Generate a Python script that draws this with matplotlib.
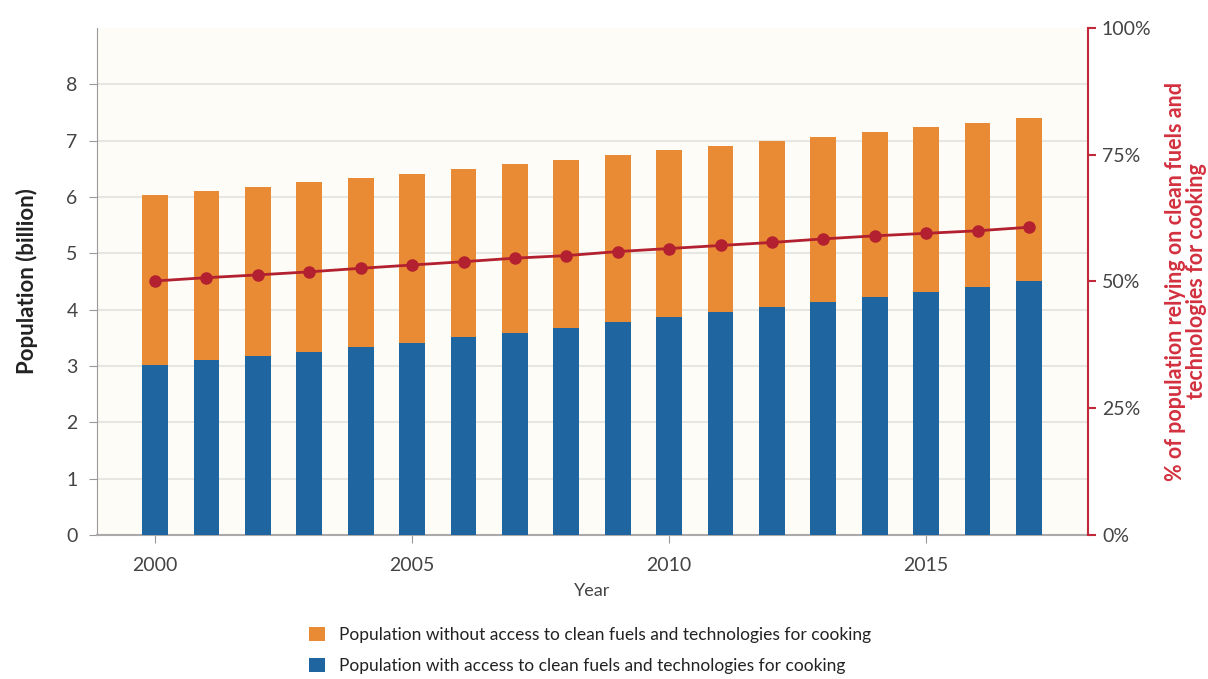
import matplotlib
matplotlib.use("Agg")
import matplotlib.pyplot as plt
from matplotlib.patches import Patch
from matplotlib.ticker import FuncFormatter

years = list(range(2000, 2018))
with_access = [3.02, 3.10, 3.17, 3.25, 3.33, 3.41, 3.51, 3.59, 3.68, 3.78,
               3.87, 3.95, 4.05, 4.14, 4.23, 4.32, 4.41, 4.51]
without_access = [3.01, 3.00, 3.01, 3.01, 3.01, 3.00, 2.99, 2.99, 2.98, 2.96,
                  2.96, 2.96, 2.95, 2.93, 2.93, 2.92, 2.91, 2.89]
pct_clean = [50.1, 50.75, 51.3, 51.9, 52.6, 53.25, 53.9, 54.6, 55.1, 55.9,
             56.5, 57.1, 57.7, 58.4, 59.0, 59.5, 60.0, 60.7]
left_ticks = [0, 1, 2, 3, 4, 5, 6, 7, 8]
right_ticks = [0, 25, 50, 75, 100]
x_ticks = [2000, 2005, 2010, 2015]
legend_labels = ["Population without access to clean fuels and technologies for cooking",
                 "Population with access to clean fuels and technologies for cooking"]

ORANGE = "#E98A34"
BLUE = "#1F66A1"
RED = "#B3202F"
RED_AX = "#C1283B"
RED_TXT = "#D3303F"
GRAY_TXT = "#444444"

plt.rcParams['font.family'] = ['Lato', 'DejaVu Sans']

fig = plt.figure(figsize=(12.08, 6.79), dpi=100)
ax = fig.add_axes([0.0803, 0.2121, 0.8204, 0.7467])
ax.set_facecolor("#FDFCF6")

ax.bar(years, with_access, width=0.5, color=BLUE, zorder=3)
ax.bar(years, without_access, width=0.5, bottom=with_access, color=ORANGE, zorder=3)

ax.set_xlim(1998.87, 2018.15)
ax.set_ylim(0, 9)
ax.set_yticks(left_ticks)
ax.set_xticks(x_ticks)
ax.grid(axis='y', color="#E6E6E2", linewidth=1.5, zorder=0)
ax.tick_params(axis='both', labelsize=14, labelcolor=GRAY_TXT, color="#999999", length=6)
ax.tick_params(axis='x', pad=10)
ax.tick_params(axis='y', pad=8)
for s in ['top', 'right']:
    ax.spines[s].set_visible(False)
ax.spines['left'].set_color("#999999")
ax.spines['bottom'].set_color("#AAAAAA")
ax.spines['bottom'].set_linewidth(1.5)
ax.set_ylabel("Population (billion)", fontsize=16, fontweight='bold', color="#222222", labelpad=20)
ax.set_xlabel("Year", fontsize=13, color=GRAY_TXT, labelpad=6)

ax2 = ax.twinx()
ax2.plot(years, pct_clean, color=RED, linewidth=2, marker='o', markersize=8, zorder=5)
ax2.set_ylim(0, 100)
ax2.set_yticks(right_ticks)
ax2.yaxis.set_major_formatter(FuncFormatter(lambda v, p: f"{int(v)}%"))
for s in ['top', 'left', 'bottom']:
    ax2.spines[s].set_visible(False)
ax2.spines['right'].set_color(RED_AX)
ax2.spines['right'].set_linewidth(1.5)
ax2.tick_params(axis='y', labelsize=14, labelcolor=GRAY_TXT, color=RED_AX, length=6, width=1.5, pad=4)
ax2.set_ylabel("% of population relying on clean fuels and\ntechnologies for cooking",
               fontsize=15.5, fontweight='bold', color=RED_TXT, labelpad=10, linespacing=1.0)

handles = [Patch(facecolor=ORANGE, edgecolor='none'), Patch(facecolor=BLUE, edgecolor='none')]
fig.legend(handles, legend_labels, loc='upper left', bbox_to_anchor=(0.243, 0.1),
           frameon=False, fontsize=12.5, handlelength=0.9, handleheight=0.9,
           handletextpad=0.8, labelspacing=0.85, labelcolor="#222222",
           bbox_transform=fig.transFigure)

fig.savefig("out.png", dpi=100, facecolor="white")
